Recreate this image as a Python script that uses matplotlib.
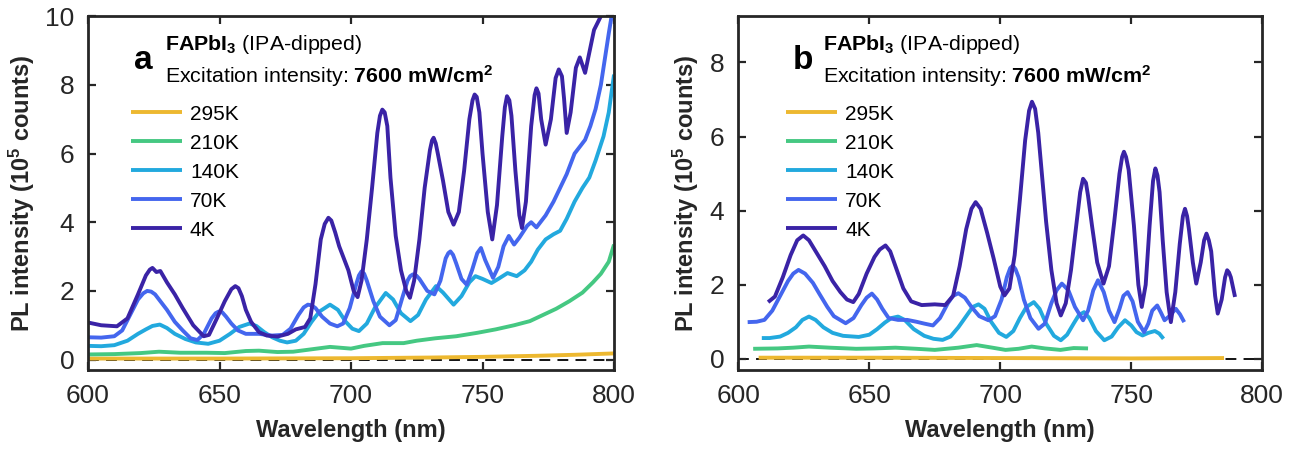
import matplotlib
matplotlib.use("Agg")
import matplotlib.pyplot as plt

plt.rcParams['font.family'] = ['Liberation Sans', 'DejaVu Sans']
plt.rcParams['mathtext.fontset'] = 'custom'
plt.rcParams['mathtext.rm'] = 'Liberation Sans'
plt.rcParams['mathtext.it'] = 'Liberation Sans:italic'
plt.rcParams['mathtext.bf'] = 'Liberation Sans:bold'

# PL spectra, FAPbI3 (IPA-dipped), 7600 mW/cm2, in units of 1e5 counts
temps = ['295K', '210K', '140K', '70K', '4K']
colors = ['#EDB830', '#45C882', '#22A9DE', '#4466EE', '#3A23A6']

# ---- panel a ----
a_wl_295 = [600, 650, 700, 730, 750, 770, 785, 800]
a_pl_295 = [0.03, 0.03, 0.04, 0.06, 0.08, 0.11, 0.14, 0.18]

a_wl_210 = [600, 610, 620, 627, 635, 645, 652, 660, 665, 672, 678, 685, 692, 700, 705, 712, 720,
            725, 732, 740, 748, 755, 762, 768, 773, 778, 783, 788, 792, 795, 798, 800]
a_pl_210 = [0.15, 0.16, 0.19, 0.23, 0.2, 0.2, 0.19, 0.25, 0.26, 0.22, 0.23, 0.3, 0.37, 0.32, 0.4, 0.48, 0.48,
            0.55, 0.62, 0.68, 0.78, 0.88, 1.0, 1.12, 1.3, 1.48, 1.7, 1.95, 2.25, 2.5, 2.85, 3.35]

a_wl_140 = [600, 605, 610, 615, 619, 622, 624.5, 627.3, 630, 633, 637, 641, 645.7, 650, 654, 657.5,
            661.4, 664, 667, 670, 673, 675.7, 679, 682, 685, 688, 692, 695, 698, 700.5, 703, 706, 709,
            713.2, 716, 719, 722.6, 725.5, 728.5, 732.3, 735, 739, 742, 745, 747.3, 750, 753.4, 756,
            759.5, 763, 766, 768.5, 771, 774, 777, 779.5, 782, 785, 788, 790.6, 793, 796, 798, 800]
a_pl_140 = [0.4, 0.39, 0.42, 0.55, 0.75, 0.88, 0.98, 1.02, 0.92, 0.75, 0.6, 0.5, 0.46, 0.55, 0.75, 0.95,
            1.05, 0.98, 0.8, 0.65, 0.55, 0.5, 0.55, 0.75, 1.1, 1.4, 1.6, 1.45, 1.1, 0.9, 0.83, 1.05, 1.5,
            1.94, 1.75, 1.35, 1.12, 1.3, 1.75, 2.14, 1.95, 1.6, 1.85, 2.25, 2.43, 2.35, 2.23, 2.35,
            2.52, 2.43, 2.6, 2.85, 3.2, 3.5, 3.65, 3.75, 4.1, 4.6, 5.0, 5.3, 5.8, 6.5, 7.2, 8.3]

a_wl_70 = [600, 605, 610, 613, 616, 619, 621, 622.5, 624, 625.5, 627, 630, 633, 636, 639, 641.6, 644,
           647, 648.5, 649.7, 651, 652.5, 654.5, 657, 660, 665, 670, 674, 677, 680, 682, 683.6, 685,
           686.5, 689, 692, 694.8, 697, 699.5, 702, 703, 704, 705, 706, 708.5, 711, 714.6, 717, 719.5,
           721.5, 722.5, 723.5, 724.8, 726, 729, 731.7, 734, 736, 737, 737.8, 738.8, 740, 742, 744,
           746, 748, 749.4, 751, 754, 756, 758, 760, 762, 764, 767, 768.5,
           770.5, 774, 777, 779.5, 782, 785, 789, 791, 793, 795, 796.6, 798, 799.5]
a_pl_70 = [0.65, 0.64, 0.68, 0.85, 1.3, 1.75, 1.93, 2.0, 1.98, 1.9, 1.75, 1.45, 1.1, 0.85, 0.62, 0.57, 0.75,
           1.2, 1.35, 1.4, 1.38, 1.25, 1.05, 0.85, 0.75, 0.75, 0.7, 0.72, 0.9, 1.3, 1.52, 1.6, 1.58,
           1.5, 1.25, 1.05, 0.97, 1.05, 1.5, 2.2, 2.45, 2.57, 2.5, 2.3, 1.7, 1.25, 1.0, 1.15, 1.8,
           2.3, 2.43, 2.48, 2.45, 2.35, 2.0, 1.9, 2.3, 2.95, 3.1, 3.15, 3.05, 2.8, 2.35, 2.18,
           2.6, 3.1, 3.25, 2.9, 2.38, 2.7, 3.3, 3.6, 3.35, 3.55, 3.9, 4.0,
           3.85, 4.2, 4.6, 5.0, 5.4, 6.0, 6.4, 6.8, 7.3, 8.0, 8.8, 9.5, 10.2]

a_wl_4 = [600, 605, 611, 615, 619, 622, 623.5, 624.5, 626, 627.5, 630, 633, 636, 640, 644, 646, 649,
          652, 654.5, 656, 657.2, 658.5, 660, 662, 665, 668, 672, 676, 679, 682.5, 684.5, 686.5,
          688.5, 690, 691.4, 692.5, 694, 695.5, 697, 699, 701, 702.5, 704, 706, 708, 710, 711, 711.9,
          712.8, 713.8, 715, 717, 719, 721, 722.4, 724, 726, 728, 730, 730.8, 731.4, 732.2, 733, 735,
          737, 739, 741, 743, 745, 746.2, 747, 747.8, 748.8, 750, 752, 753.7, 755.5, 757.5, 758.5,
          759.3, 760.2, 761, 762.5, 764, 765, 766.5, 768.5, 769.8, 770.5, 771.3, 772.3, 774, 776,
          777.8, 779, 780.2, 781, 782, 783.5, 785.5, 787, 789, 790.5, 792.4, 795, 797, 800]
a_pl_4 = [1.08, 1.0, 0.97, 1.2, 1.9, 2.45, 2.62, 2.67, 2.55, 2.58, 2.25, 1.9, 1.5, 1.0, 0.68, 0.72, 1.2,
          1.7, 2.05, 2.14, 2.08, 1.85, 1.45, 1.1, 0.8, 0.7, 0.67, 0.75, 0.88, 0.95, 1.2, 2.2,
          3.5, 3.95, 4.13, 4.05, 3.7, 3.3, 3.0, 2.6, 2.0, 1.82, 2.3, 3.5, 5.0, 6.6, 7.1, 7.28,
          7.2, 6.8, 5.3, 3.6, 2.6, 2.0, 1.8, 2.3, 3.5, 5.0, 6.1, 6.38, 6.46, 6.3, 6.0, 5.2,
          4.3, 3.93, 4.3, 5.5, 7.0, 7.55, 7.72, 7.65, 7.2, 6.0, 4.3, 3.5, 4.5, 6.5, 7.35,
          7.67, 7.55, 7.1, 5.5, 4.2, 3.83, 4.6, 6.8, 7.7, 7.9, 7.75, 7.0, 6.26, 7.0,
          8.2, 8.45, 8.25, 7.6, 6.6, 7.2, 8.5, 8.8, 8.35, 8.9, 9.6, 10.0, 10.3, 10.8]

# ---- panel b ----
b_wl_295 = [607.8, 650, 700, 750, 785.4]
b_pl_295 = [0.03, 0.03, 0.02, 0.01, 0.02]

b_wl_210 = [605.7, 615, 621, 627, 635, 645, 652, 660, 668, 675, 684, 691, 697, 702, 707, 712, 717,
            723, 728, 733.5]
b_pl_210 = [0.27, 0.28, 0.3, 0.33, 0.3, 0.27, 0.28, 0.3, 0.27, 0.24, 0.3, 0.37, 0.3, 0.24, 0.27, 0.33, 0.28,
            0.24, 0.29, 0.28]

b_wl_140 = [609, 612, 616, 619, 622, 624.5, 627, 629.5, 632.5, 636, 640, 646, 650, 653, 656, 658.5,
            661, 663.5, 667, 671, 674.5, 678, 681, 684, 687, 689.5, 691.7, 694, 696.5, 699.5, 702.3,
            705, 707.5, 710, 712.8, 715, 717.5, 720.5, 723.1, 725.5, 728, 730, 732, 734, 736.5,
            739.7, 742.5, 745, 747.6, 750, 752, 754.3, 756.5, 759, 760.7, 762.3]
b_pl_140 = [0.56, 0.56, 0.6, 0.7, 0.85, 1.05, 1.14, 1.05, 0.85, 0.7, 0.62, 0.59, 0.65, 0.8, 0.98, 1.1,
            1.14, 1.05, 0.8, 0.62, 0.54, 0.51, 0.6, 0.85, 1.15, 1.4, 1.47, 1.35, 1.0, 0.7, 0.59,
            0.75, 1.1, 1.4, 1.53, 1.35, 0.95, 0.62, 0.5, 0.65, 0.95, 1.18, 1.26, 1.1, 0.75,
            0.5, 0.6, 0.85, 1.04, 0.9, 0.72, 0.63, 0.7, 0.75, 0.68, 0.54]

b_wl_70 = [603.6, 607, 610, 613, 616, 619, 621, 623, 625.5, 628.5, 631, 634, 636.5, 641, 644, 647, 649,
           651, 653, 655, 657.4, 661, 664.5, 668, 671, 674.3, 677, 680, 682, 684, 686.5, 689, 692,
           695.5, 698, 700.5, 702.5, 703.8, 704.8, 705.8, 707, 709, 711.5, 714.6, 717, 719.5, 721.5,
           723.5, 726, 728.5, 731.6, 733.5, 735.5, 737.3, 739.5, 741.5, 743.6, 745.5, 747, 748.6,
           750.5, 752.5, 754.9, 756.5, 758, 759.9, 761.3, 762.7, 764.5, 767, 768.6, 770.2]
b_pl_70 = [0.99, 1.0, 1.05, 1.3, 1.7, 2.1, 2.3, 2.4, 2.3, 2.05, 1.75, 1.4, 1.15, 0.96, 1.1, 1.45, 1.65,
           1.76, 1.6, 1.35, 1.1, 1.05, 1.05, 1.0, 0.95, 0.9, 1.1, 1.5, 1.7, 1.77, 1.65, 1.4, 1.15,
           1.04, 1.15, 1.6, 2.2, 2.45, 2.52, 2.42, 2.2, 1.6, 1.1, 0.81, 0.95, 1.5, 1.85,
           2.03, 1.85, 1.4, 1.04, 1.3, 1.85, 2.12, 1.8, 1.3, 0.99, 1.35, 1.7, 1.8,
           1.55, 1.0, 0.72, 0.95, 1.3, 1.44, 1.25, 1.04, 1.15, 1.35, 1.2, 0.99]

b_wl_4 = [611.4, 614, 617, 620, 622.5, 624.8, 627, 630, 633, 636, 639, 641.5, 643.9, 646, 649, 652, 654,
          656.2, 658, 660, 663, 666, 670, 675, 679, 682, 684.5, 687, 689, 690.6, 692.5, 695, 697.5,
          700, 701.6, 703.5, 705.5, 707.5, 709.5, 711, 712.1, 713.3, 714.5, 715.5, 717.5, 719.5,
          721.5, 723.1, 725, 727, 729, 730.5, 731.6, 732.7, 733.5, 735, 737, 739.4, 741.5, 743.5,
          745.5, 746.5, 747.2, 748, 749, 751, 752.7, 754, 755.5, 757, 758.3, 759.2, 760, 760.8, 762,
          763.5, 765.1, 766.8, 768.5, 769.7, 770.5, 771.3, 772, 773.5, 774.8, 776.5, 777.8, 778.7,
          779.6, 780.5, 782, 783, 784.5, 785.8, 786.6, 787.3, 788, 789.6]
b_pl_4 = [1.53, 1.68, 2.2, 2.8, 3.2, 3.33, 3.2, 2.85, 2.5, 2.1, 1.8, 1.6, 1.53, 1.75, 2.3, 2.75, 2.95,
          3.06, 2.9, 2.5, 1.9, 1.55, 1.45, 1.47, 1.45, 1.7, 2.5, 3.5, 4.05, 4.23, 4.05, 3.4, 2.7,
          1.95, 1.71, 1.9, 2.8, 4.3, 5.9, 6.7, 6.94, 6.75, 6.1, 5.3, 3.7, 2.4,
          1.5, 1.17, 1.5, 2.4, 3.6, 4.5, 4.86, 4.75, 4.4, 3.6, 2.6, 2.03, 2.5, 3.7,
          5.0, 5.45, 5.59, 5.45, 5.1, 3.6, 2.0, 1.4, 2.0, 3.6, 4.8, 5.14, 4.95, 4.5, 3.2,
          1.8, 0.99, 1.8, 3.1, 3.85, 4.05, 3.85, 3.5, 2.6, 2.03, 2.6, 3.2, 3.38,
          3.2, 2.9, 1.7, 1.22, 1.6, 2.2, 2.39, 2.33, 2.2, 1.67]

panel_a = [(a_wl_295, a_pl_295), (a_wl_210, a_pl_210), (a_wl_140, a_pl_140),
           (a_wl_70, a_pl_70), (a_wl_4, a_pl_4)]
panel_b = [(b_wl_295, b_pl_295), (b_wl_210, b_pl_210), (b_wl_140, b_pl_140),
           (b_wl_70, b_pl_70), (b_wl_4, b_pl_4)]

fig = plt.figure(figsize=(13.02, 4.5), dpi=100)
ax_a = fig.add_axes([0.0676, 0.178, 0.404, 0.786])
ax_b = fig.add_axes([0.567, 0.178, 0.4025, 0.786])

dark = '#262626'


def style_axis(ax, ylim, yticks):
    ax.set_xlim(600, 800)
    ax.set_ylim(*ylim)
    ax.set_xticks([600, 650, 700, 750, 800])
    ax.set_yticks(yticks)
    ax.tick_params(direction='in', length=6, width=1.6, top=True, right=True,
                   labelsize=19, colors=dark, pad=10)
    for s in ax.spines.values():
        s.set_linewidth(2.0)
        s.set_color(dark)
    ax.set_xlabel('Wavelength (nm)', fontsize=17, fontweight='bold', color=dark, labelpad=8)
    ax.set_ylabel(r'PL intensity (10$^{\mathbf{5}}$ counts)', fontsize=17, fontweight='bold',
                  color=dark, labelpad=6)
    ax.axhline(0, color='k', ls='--', lw=1.3, dashes=(6, 4), zorder=0)


for ax, data, tag, ylim, yticks, tx, lx in [
        (ax_a, panel_a, 'a', (-0.3, 10), [0, 2, 4, 6, 8, 10], 0.146, 0.081),
        (ax_b, panel_b, 'b', (-0.3, 9.25), [0, 2, 4, 6, 8], 0.162, 0.091)]:
    for (wl, pl), lab, c in zip(data, temps, colors):
        ax.plot(wl, pl, color=c, lw=2.8, label=lab, solid_capstyle='butt')
    style_axis(ax, ylim, yticks)
    ax.text(tx - 0.058, 0.875, tag, transform=ax.transAxes, fontsize=24, fontweight='bold',
            ha='left', va='center')
    ax.text(tx, 0.92, r'$\mathbf{FAPbI_3}$ (IPA-dipped)', transform=ax.transAxes,
            fontsize=15.4, ha='left', va='center')
    ax.text(tx, 0.83, r'Excitation intensity: $\mathbf{7600\ mW/cm^2}$',
            transform=ax.transAxes, fontsize=15.4, ha='left', va='center')
    ax.legend(loc='upper left', bbox_to_anchor=(lx, 0.75),
              frameon=False, fontsize=15, handlelength=2.45, handletextpad=0.4,
              labelspacing=0.48, borderaxespad=0, borderpad=0)

fig.savefig('out.png', dpi=100)
